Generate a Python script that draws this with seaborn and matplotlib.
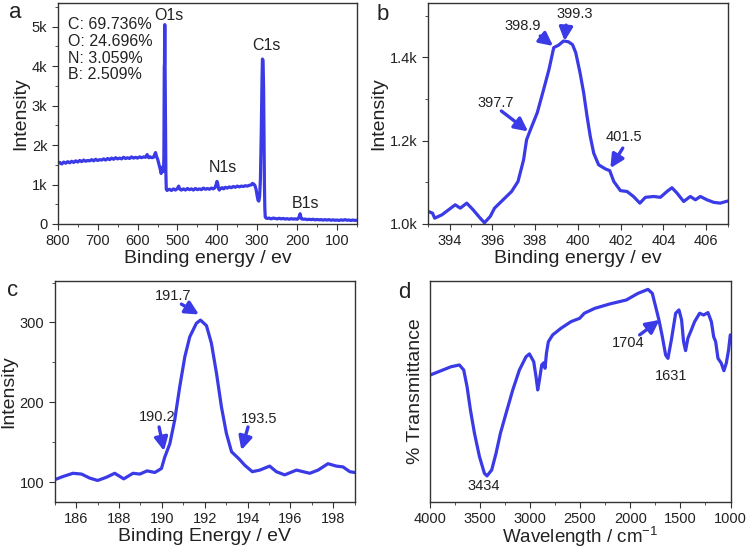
import matplotlib
matplotlib.use("Agg")
import matplotlib.pyplot as plt
from matplotlib.ticker import FuncFormatter, MultipleLocator, NullLocator
import seaborn as sns

# (a) XPS survey
survey_ev = [800, 795, 790, 785, 780, 775, 770, 765, 760, 755, 750, 745, 740, 735, 730, 725,
             720, 715, 710, 705, 700, 695, 690, 685, 680, 675, 670, 665, 660, 655, 650, 645,
             640, 635, 630, 625, 620, 615, 610, 605, 600, 595, 590, 585, 580, 576, 572, 568,
             564, 560, 557, 555, 552, 549, 546, 543, 541, 539, 537, 535, 534, 533.5, 533, 532.5,
             532, 531.5, 531, 530, 529, 528, 526, 523, 520, 515, 510, 505, 500, 497, 494, 490,
             485, 480, 475, 470, 465, 460, 455, 450, 445, 440, 435, 430, 425, 420, 415, 410,
             406, 403, 401, 399, 397, 395, 392, 388, 384, 380, 375, 370, 365, 360, 355, 350,
             345, 340, 335, 330, 325, 320, 315, 312, 309, 306, 303, 300, 298, 296, 294, 292,
             290, 288, 287, 285.5, 284, 283, 282, 281, 280, 278, 275, 270, 265, 260, 255, 250,
             245, 240, 235, 230, 225, 220, 215, 210, 205, 200, 197, 194, 192.5, 191, 189, 185,
             180, 175, 170, 165, 160, 155, 150, 145, 140, 135, 130, 125, 120, 115, 110, 105,
             100, 95, 90, 85, 80, 75, 70, 65, 60, 55, 50]
survey_counts = [1530, 1560, 1520, 1570, 1540, 1580, 1550, 1590, 1560, 1600, 1570, 1610, 1580, 1620, 1590, 1610,
                 1600, 1630, 1600, 1640, 1610, 1630, 1620, 1650, 1620, 1660, 1630, 1670, 1640, 1680, 1650, 1670,
                 1650, 1690, 1660, 1680, 1660, 1700, 1670, 1690, 1670, 1700, 1680, 1700, 1690, 1760, 1680, 1700,
                 1680, 1690, 1760, 1810, 1700, 1620, 1500, 1380, 1280, 1330, 1450, 1330, 1700, 3000, 4000, 4050,
                 5050, 5050, 4000, 2500, 1300, 880, 850, 870, 880, 850, 890, 860, 900, 960, 880, 860,
                 890, 860, 900, 870, 890, 860, 900, 870, 890, 870, 910, 880, 900, 880, 910, 890,
                 920, 1000, 1080, 1020, 900, 860, 900, 920, 890, 930, 910, 940, 920, 950, 930, 960,
                 940, 960, 950, 970, 960, 980, 990, 1030, 1010, 980, 880, 700, 600, 580, 700, 1150,
                 2300, 3700, 4180, 4150, 3400, 2100, 1000, 400, 180, 150, 140, 150, 130, 150, 140, 130,
                 145, 130, 140, 125, 135, 120, 135, 125, 130, 120, 140, 210, 260, 180, 130, 120,
                 125, 110, 120, 110, 120, 105, 115, 105, 110, 100, 110, 100, 110, 95, 105, 95,
                 100, 90, 105, 95, 110, 95, 100, 90, 100, 90, 95]

# (b) N1s
n1s_ev = [393.0, 393.2, 393.3, 393.64, 393.95, 394.26, 394.5, 394.8, 395.1, 395.43, 395.63, 395.9,
          396.1, 396.5, 396.9, 397.2, 397.46, 397.6, 397.78, 398.1, 398.4, 398.65, 398.87, 399.1,
          399.33, 399.56, 399.75, 399.9, 400.1, 400.27, 400.43, 400.58, 400.74, 400.97, 401.29,
          401.49, 401.68, 401.99, 402.3, 402.6, 402.9, 403.16, 403.55, 403.86, 404.17, 404.4,
          404.64, 404.95, 405.26, 405.5, 405.73, 406.04, 406.35, 406.66, 407.0]
n1s_counts = [1030, 1026, 1014, 1022, 1034, 1046, 1038, 1050, 1034, 1014, 1003, 1018,
              1038, 1058, 1078, 1102, 1154, 1202, 1226, 1267, 1323, 1371, 1423, 1429,
              1439, 1437, 1430, 1411, 1363, 1315, 1258, 1210, 1170, 1142, 1132,
              1128, 1102, 1080, 1078, 1066, 1050, 1064, 1066, 1064, 1078, 1087,
              1074, 1054, 1066, 1058, 1066, 1058, 1052, 1050, 1055]

# (c) B1s
b1s_ev = [185.0, 185.39, 185.85, 186.25, 186.63, 187.0, 187.41, 187.8, 188.22, 188.65, 188.97,
          189.31, 189.67, 189.98, 190.13, 190.37, 190.6, 190.83, 191.07, 191.3, 191.61, 191.8,
          192.08, 192.31, 192.55, 192.78, 193.01, 193.25, 193.6, 193.87, 194.22, 194.57, 195.03,
          195.34, 195.73, 196.28, 196.9, 197.29, 197.75, 198.14, 198.45, 198.77, 199.0]
b1s_counts = [103, 107, 111, 110, 105, 102, 106, 111, 104, 111, 110,
              114, 112, 117, 131, 148, 178, 219, 257, 282, 299, 303,
              296, 274, 236, 194, 161, 138, 129, 121, 113, 115, 120,
              113, 109, 115, 111, 115, 123, 120, 119, 113, 112]

# (d) FTIR
ir_wn = [3993, 3887, 3788, 3704, 3661, 3628, 3594, 3554, 3504, 3455, 3429, 3382, 3339, 3295,
         3239, 3172, 3106, 3040, 3006, 2963, 2940, 2923, 2906, 2883, 2863, 2850, 2836, 2817,
         2774, 2691, 2591, 2505, 2458, 2355, 2205, 2039, 1923, 1823, 1780, 1747, 1714, 1680,
         1647, 1624, 1590, 1547, 1514, 1488, 1468, 1448, 1425, 1391, 1358, 1308, 1268, 1225,
         1191, 1168, 1148, 1125, 1092, 1066, 1042, 1019, 1002]
ir_trans = [57.5, 59.4, 61.2, 62.0, 59.7, 52.2, 41.6, 31.1, 20.5, 13.0, 11.8, 14.5, 22.0, 31.1,
            40.1, 50.7, 59.7, 65.7, 67.0, 63.5, 56.7, 50.7, 55.2, 62.0, 63.0, 60.5, 67.3, 72.5,
            75.6, 78.6, 81.6, 83.1, 85.4, 87.6, 89.6, 91.4, 94.4, 96.2, 94.4, 88.4, 82.4, 74.8,
            66.5, 65.0, 73.3, 85.4, 86.9, 82.4, 72.5, 68.5, 74.1, 77.8, 81.6, 85.4, 84.6, 85.7,
            81.6, 74.8, 72.5, 65.0, 62.8, 59.4, 62.8, 68.8, 75.6]

BLUE = '#3a3ae6'
TXT = '#222222'

sns.set_style("ticks")
plt.rcParams['font.family'] = ['Liberation Sans', 'DejaVu Sans']
plt.rcParams['mathtext.fontset'] = 'custom'
plt.rcParams['mathtext.rm'] = 'Liberation Sans'
plt.rcParams['mathtext.it'] = 'Liberation Sans:italic'
plt.rcParams['axes.edgecolor'] = '#333333'
plt.rcParams['axes.linewidth'] = 1.0
for ax_ in ('xtick', 'ytick'):
    plt.rcParams[f'{ax_}.direction'] = 'out'
    plt.rcParams[f'{ax_}.major.size'] = 4
    plt.rcParams[f'{ax_}.minor.size'] = 2.5
    plt.rcParams[f'{ax_}.labelsize'] = 10.5
    plt.rcParams[f'{ax_}.color'] = '#333333'
    plt.rcParams[f'{ax_}.labelcolor'] = TXT

fig = plt.figure(figsize=(7.5, 5.49), dpi=100)
ax_a = fig.add_axes([0.077, 0.592, 0.399, 0.4025])
ax_b = fig.add_axes([0.571, 0.592, 0.399, 0.4025])
ax_c = fig.add_axes([0.073, 0.0856, 0.400, 0.4026])
ax_d = fig.add_axes([0.573, 0.0856, 0.401, 0.4026])


def arrow(ax, tail, head):
    ax.annotate('', xy=head, xytext=tail,
                arrowprops=dict(arrowstyle='-|>,head_length=0.8,head_width=0.4', lw=2.4,
                                color=BLUE, shrinkA=0, shrinkB=0, mutation_scale=10))


def label(ax, txt, x, y):
    ax.text(x, y, txt, ha='center', va='center', fontsize=10.5, color=TXT)


# panel a
sns.lineplot(x=survey_ev, y=survey_counts, ax=ax_a, color=BLUE, lw=2.3, sort=False)
ax_a.set_xlim(800, 50)
ax_a.set_ylim(0, 5600)
ax_a.xaxis.set_major_locator(MultipleLocator(100))
ax_a.xaxis.set_minor_locator(MultipleLocator(50))
ax_a.yaxis.set_major_locator(MultipleLocator(1000))
ax_a.yaxis.set_minor_locator(MultipleLocator(500))
ax_a.yaxis.set_major_formatter(FuncFormatter(lambda v, p: '0' if v == 0 else f'{int(v / 1000)}k'))
ax_a.set_xlabel('Binding energy / ev', fontsize=14, color=TXT, labelpad=1)
ax_a.set_ylabel('Intensity', fontsize=14, color=TXT, labelpad=2)
ax_a.text(0.034, 0.935, 'C: 69.736%\nO: 24.696%\nN: 3.059%\nB: 2.509%', transform=ax_a.transAxes,
          ha='left', va='top', fontsize=11.5, color=TXT, linespacing=1.13)
for lab, x, y in [('O1s', 521, 5290), ('C1s', 277, 4520), ('N1s', 385, 1420), ('B1s', 178, 530)]:
    ax_a.text(x, y, lab, ha='center', va='center', fontsize=11.5, color=TXT)

# panel b
sns.lineplot(x=n1s_ev, y=n1s_counts, ax=ax_b, color=BLUE, lw=2.3, sort=False)
ax_b.set_xlim(393, 407)
ax_b.set_ylim(1000, 1530)
ax_b.xaxis.set_major_locator(MultipleLocator(2))
ax_b.xaxis.set_minor_locator(MultipleLocator(1))
ax_b.yaxis.set_major_locator(MultipleLocator(200))
ax_b.yaxis.set_minor_locator(MultipleLocator(100))
ax_b.yaxis.set_major_formatter(FuncFormatter(lambda v, p: f'{v / 1000:.1f}k'))
ax_b.set_xlabel('Binding energy / ev', fontsize=14, color=TXT, labelpad=1)
ax_b.set_ylabel('Intensity', fontsize=14, color=TXT, labelpad=2)
label(ax_b, '398.9', 397.4, 1475)
arrow(ax_b, (398.24, 1451), (398.84, 1427))
label(ax_b, '399.3', 399.84, 1504)
arrow(ax_b, (399.45, 1477), (399.38, 1439))
label(ax_b, '397.7', 396.14, 1291)
arrow(ax_b, (396.42, 1271), (397.67, 1222))
label(ax_b, '401.5', 402.14, 1209)
arrow(ax_b, (402.1, 1182), (401.52, 1134))

# panel c
sns.lineplot(x=b1s_ev, y=b1s_counts, ax=ax_c, color=BLUE, lw=2.3, sort=False)
ax_c.set_xlim(185, 199)
ax_c.set_ylim(75, 352)
ax_c.xaxis.set_major_locator(MultipleLocator(2))
ax_c.xaxis.set_minor_locator(MultipleLocator(1))
ax_c.yaxis.set_major_locator(MultipleLocator(100))
ax_c.yaxis.set_minor_locator(MultipleLocator(50))
ax_c.set_xlabel('Binding Energy / eV', fontsize=14, color=TXT, labelpad=1)
ax_c.set_ylabel('Intensity', fontsize=14, color=TXT, labelpad=2)
label(ax_c, '191.7', 190.52, 333)
arrow(ax_c, (190.91, 323), (191.73, 310))
label(ax_c, '190.2', 189.77, 182)
arrow(ax_c, (189.87, 169), (190.1, 139))
label(ax_c, '193.5', 194.53, 179)
arrow(ax_c, (194.02, 169), (193.71, 140))

# panel d
sns.lineplot(x=ir_wn, y=ir_trans, ax=ax_d, color=BLUE, lw=2.3, sort=False)
ax_d.set_xlim(4000, 1000)
ax_d.set_ylim(0, 100)
ax_d.xaxis.set_major_locator(MultipleLocator(500))
ax_d.xaxis.set_minor_locator(MultipleLocator(250))
ax_d.yaxis.set_major_locator(NullLocator())
ax_d.yaxis.set_minor_locator(NullLocator())
ax_d.set_xlabel('Wavelength / cm$^{-1}$', fontsize=13.5, color=TXT, labelpad=-1)
ax_d.set_ylabel('% Transmittance', fontsize=14, color=TXT, labelpad=4)
label(ax_d, '3434', 3459, 7.4)
label(ax_d, '1631', 1597, 57.2)
label(ax_d, '1704', 2016, 71.8)
arrow(ax_d, (1906, 75.6), (1707, 82.4))

# panel letters
for lab, x, y in [('a', 15, 13), ('b', 383, 15), ('c', 13, 290), ('d', 404, 293)]:
    fig.text(x / 750, 1 - y / 549, lab, ha='center', va='center', fontsize=16, color=TXT)

fig.savefig('out.png', dpi=100)
